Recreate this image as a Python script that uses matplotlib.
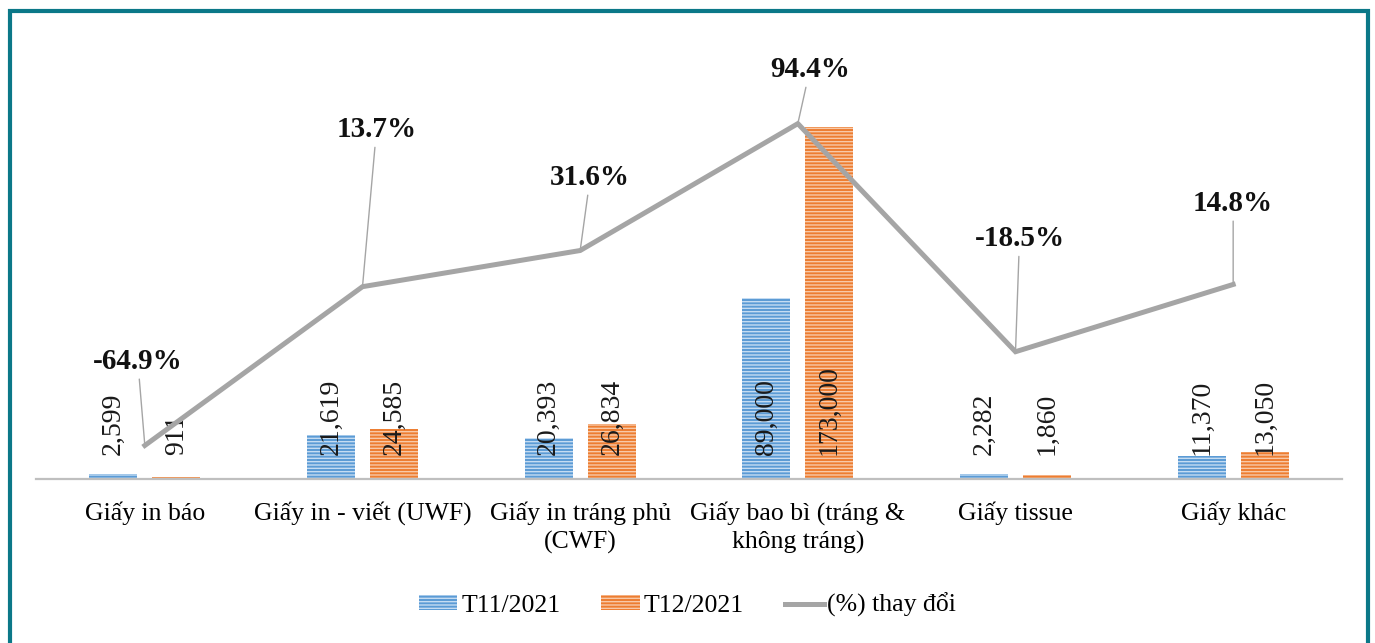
import matplotlib.pyplot as plt
from matplotlib.patches import Rectangle

plt.rcParams["font.family"] = ["Liberation Serif", "DejaVu Serif"]
plt.rcParams["hatch.linewidth"] = 1.0

categories = [
    "Giấy in báo",
    "Giấy in - viết (UWF)",
    "Giấy in tráng phủ\n(CWF)",
    "Giấy bao bì (tráng &\nkhông tráng)",
    "Giấy tissue",
    "Giấy khác",
]
t11 = [2599, 21619, 20393, 89000, 2282, 11370]
t12 = [911, 24585, 26834, 173000, 1860, 13050]
pct_change = [-64.9, 13.7, 31.6, 94.4, -18.5, 14.8]

# label offsets (pixels) for the % annotations
pct_offsets = [(-7, 84), (14, 157), (10, 73), (12, 54), (4, 113), (0, 81)]

blue, blue_l = "#5b9bd5", "#c5dcf2"
orange, orange_l = "#ed7d31", "#f8c9a8"
gray = "#a5a5a5"
W, H = 1375, 643

fig = plt.figure(figsize=(W / 100, H / 100), dpi=100)
ax = fig.add_axes([36 / W, 1 - 479 / H, 1306 / W, 419 / H])
ax2 = ax.twinx()

x = list(range(len(categories)))
bw = 0.22
off = 0.145
b1 = ax.bar([i - off for i in x], t11, bw, color=blue, edgecolor=blue_l,
            linewidth=0, hatch="-----", label="T11/2021")
b2 = ax.bar([i + off for i in x], t12, bw, color=orange, edgecolor=orange_l,
            linewidth=0, hatch="-----", label="T12/2021")
ax.set_ylim(0, 205900)
ax.set_xlim(-0.5, len(categories) - 0.5)

for bars, vals in ((b1, t11), (b2, t12)):
    for b, v in zip(bars, vals):
        ax.annotate(f"{v:,}", (b.get_x() + b.get_width() / 2, 0),
                    xytext=(0, 24 * 0.72), textcoords="offset points",
                    rotation=90, ha="center", va="bottom", fontsize=20,
                    color="#1a1a1a", zorder=5)

ln, = ax2.plot(x, pct_change, color=gray, lw=3.6, label="(%) thay đổi",
               solid_joinstyle="miter", zorder=4)
ax2.set_ylim(-81.5, 125.9)
for i, (v, (dx, dy)) in enumerate(zip(pct_change, pct_offsets)):
    ax2.annotate(f"{v:.1f}%", (i, v), xytext=(dx * 0.72, dy * 0.72),
                 textcoords="offset points", ha="center", va="center",
                 fontsize=21, fontweight="bold", color="#111111",
                 arrowprops=dict(arrowstyle="-", color=gray, lw=1,
                                 shrinkA=1, shrinkB=0))

ax.set_xticks(x)
ax.set_xticklabels(categories, fontsize=18.5, linespacing=1.35)
ax.tick_params(axis="x", length=0, pad=16)
ax.set_yticks([])
ax2.set_yticks([])
for a in (ax, ax2):
    for s in ("top", "left", "right", "bottom"):
        a.spines[s].set_visible(False)
ax.spines["bottom"].set_visible(True)
ax.spines["bottom"].set_color("#bfbfbf")
ax.spines["bottom"].set_linewidth(1.6)

fig.legend(handles=[b1, b2, ln], loc="center", bbox_to_anchor=(0.5, 1 - 605 / H),
           ncol=3, frameon=False, fontsize=18.5, handlelength=1.5,
           handleheight=0.5, columnspacing=1.6, handletextpad=0.15)

fig.patches.append(Rectangle((10 / W, -0.05), 1358 / W, 1.05 - 11.5 / H,
                             transform=fig.transFigure, fill=False,
                             edgecolor="#0b7888", linewidth=3))

fig.savefig("out.png", dpi=100)
